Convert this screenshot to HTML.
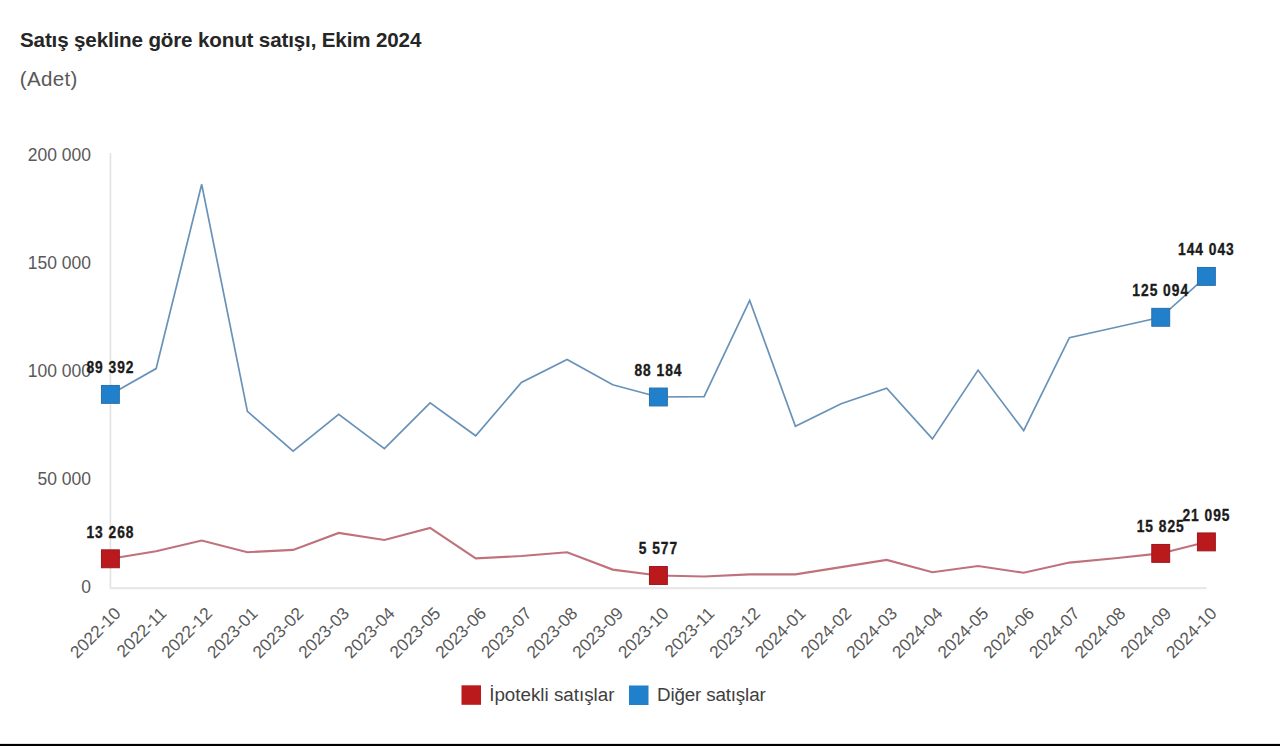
<!DOCTYPE html>
<html lang="tr"><head><meta charset="utf-8"><title>Satış şekline göre konut satışı, Ekim 2024</title>
<style>html,body{margin:0;padding:0;background:#fff;width:1280px;height:746px;overflow:hidden}svg{display:block}</style>
</head><body>
<svg width="1280" height="746" viewBox="0 0 1280 746">
<text x="20" y="47" font-family='"Liberation Sans", Arial, sans-serif' font-weight="bold" font-size="20.6" letter-spacing="-0.15" fill="#262626">Satış şekline göre konut satışı, Ekim 2024</text>
<text x="19.8" y="85.5" font-family='"Liberation Sans", Arial, sans-serif' font-size="20.5" letter-spacing="0.35" fill="#595959">(Adet)</text>
<line x1="110.45" y1="153" x2="110.45" y2="588" stroke="#e2e2e2" stroke-width="1.6"/>
<line x1="109.7" y1="588.1" x2="1206.5" y2="588.1" stroke="#e8e8e8" stroke-width="2.4"/>
<text x="91" y="161.1" text-anchor="end" font-family='"Liberation Sans", Arial, sans-serif' font-size="17.5" fill="#595959">200 000</text>
<text x="91" y="269.1" text-anchor="end" font-family='"Liberation Sans", Arial, sans-serif' font-size="17.5" fill="#595959">150 000</text>
<text x="91" y="377.1" text-anchor="end" font-family='"Liberation Sans", Arial, sans-serif' font-size="17.5" fill="#595959">100 000</text>
<text x="91" y="485.1" text-anchor="end" font-family='"Liberation Sans", Arial, sans-serif' font-size="17.5" fill="#595959">50 000</text>
<text x="91" y="593.1" text-anchor="end" font-family='"Liberation Sans", Arial, sans-serif' font-size="17.5" fill="#595959">0</text>
<text transform="translate(121.9,614.5) rotate(-45)" text-anchor="end" font-family='"Liberation Sans", Arial, sans-serif' font-size="17.25" fill="#595959">2022-10</text>
<text transform="translate(167.6,614.5) rotate(-45)" text-anchor="end" font-family='"Liberation Sans", Arial, sans-serif' font-size="17.25" fill="#595959">2022-11</text>
<text transform="translate(213.2,614.5) rotate(-45)" text-anchor="end" font-family='"Liberation Sans", Arial, sans-serif' font-size="17.25" fill="#595959">2022-12</text>
<text transform="translate(258.9,614.5) rotate(-45)" text-anchor="end" font-family='"Liberation Sans", Arial, sans-serif' font-size="17.25" fill="#595959">2023-01</text>
<text transform="translate(304.6,614.5) rotate(-45)" text-anchor="end" font-family='"Liberation Sans", Arial, sans-serif' font-size="17.25" fill="#595959">2023-02</text>
<text transform="translate(350.2,614.5) rotate(-45)" text-anchor="end" font-family='"Liberation Sans", Arial, sans-serif' font-size="17.25" fill="#595959">2023-03</text>
<text transform="translate(395.9,614.5) rotate(-45)" text-anchor="end" font-family='"Liberation Sans", Arial, sans-serif' font-size="17.25" fill="#595959">2023-04</text>
<text transform="translate(441.6,614.5) rotate(-45)" text-anchor="end" font-family='"Liberation Sans", Arial, sans-serif' font-size="17.25" fill="#595959">2023-05</text>
<text transform="translate(487.2,614.5) rotate(-45)" text-anchor="end" font-family='"Liberation Sans", Arial, sans-serif' font-size="17.25" fill="#595959">2023-06</text>
<text transform="translate(532.9,614.5) rotate(-45)" text-anchor="end" font-family='"Liberation Sans", Arial, sans-serif' font-size="17.25" fill="#595959">2023-07</text>
<text transform="translate(578.6,614.5) rotate(-45)" text-anchor="end" font-family='"Liberation Sans", Arial, sans-serif' font-size="17.25" fill="#595959">2023-08</text>
<text transform="translate(624.2,614.5) rotate(-45)" text-anchor="end" font-family='"Liberation Sans", Arial, sans-serif' font-size="17.25" fill="#595959">2023-09</text>
<text transform="translate(669.9,614.5) rotate(-45)" text-anchor="end" font-family='"Liberation Sans", Arial, sans-serif' font-size="17.25" fill="#595959">2023-10</text>
<text transform="translate(715.6,614.5) rotate(-45)" text-anchor="end" font-family='"Liberation Sans", Arial, sans-serif' font-size="17.25" fill="#595959">2023-11</text>
<text transform="translate(761.2,614.5) rotate(-45)" text-anchor="end" font-family='"Liberation Sans", Arial, sans-serif' font-size="17.25" fill="#595959">2023-12</text>
<text transform="translate(806.9,614.5) rotate(-45)" text-anchor="end" font-family='"Liberation Sans", Arial, sans-serif' font-size="17.25" fill="#595959">2024-01</text>
<text transform="translate(852.6,614.5) rotate(-45)" text-anchor="end" font-family='"Liberation Sans", Arial, sans-serif' font-size="17.25" fill="#595959">2024-02</text>
<text transform="translate(898.2,614.5) rotate(-45)" text-anchor="end" font-family='"Liberation Sans", Arial, sans-serif' font-size="17.25" fill="#595959">2024-03</text>
<text transform="translate(943.9,614.5) rotate(-45)" text-anchor="end" font-family='"Liberation Sans", Arial, sans-serif' font-size="17.25" fill="#595959">2024-04</text>
<text transform="translate(989.6,614.5) rotate(-45)" text-anchor="end" font-family='"Liberation Sans", Arial, sans-serif' font-size="17.25" fill="#595959">2024-05</text>
<text transform="translate(1035.2,614.5) rotate(-45)" text-anchor="end" font-family='"Liberation Sans", Arial, sans-serif' font-size="17.25" fill="#595959">2024-06</text>
<text transform="translate(1080.9,614.5) rotate(-45)" text-anchor="end" font-family='"Liberation Sans", Arial, sans-serif' font-size="17.25" fill="#595959">2024-07</text>
<text transform="translate(1126.6,614.5) rotate(-45)" text-anchor="end" font-family='"Liberation Sans", Arial, sans-serif' font-size="17.25" fill="#595959">2024-08</text>
<text transform="translate(1172.2,614.5) rotate(-45)" text-anchor="end" font-family='"Liberation Sans", Arial, sans-serif' font-size="17.25" fill="#595959">2024-09</text>
<text transform="translate(1217.9,614.5) rotate(-45)" text-anchor="end" font-family='"Liberation Sans", Arial, sans-serif' font-size="17.25" fill="#595959">2024-10</text>
<polyline points="110.4,394.4 156.1,368.6 201.7,184.3 247.4,411.3 293.1,451.1 338.7,414.4 384.4,448.6 430.1,402.8 475.7,435.8 521.4,382.5 567.1,359.4 612.7,384.8 658.4,397.0 704.1,396.7 749.7,300.5 795.4,426.2 841.1,403.7 886.7,388.2 932.4,438.9 978.1,370.1 1023.7,430.6 1069.4,337.7 1115.1,327.5 1160.7,317.3 1206.4,276.4" fill="none" stroke="#6892b8" stroke-width="1.7" stroke-linejoin="miter"/>
<polyline points="110.4,558.8 156.1,551.3 201.7,540.6 247.4,552.2 293.1,549.9 338.7,532.9 384.4,540.0 430.1,528.0 475.7,558.4 521.4,556.0 567.1,552.2 612.7,569.6 658.4,575.5 704.1,576.5 749.7,574.4 795.4,574.4 841.1,567.1 886.7,559.9 932.4,572.2 978.1,566.0 1023.7,572.8 1069.4,562.6 1115.1,558.2 1160.7,553.4 1206.4,541.9" fill="none" stroke="#c0727c" stroke-width="2.1" stroke-linejoin="miter"/>
<rect x="101.45" y="385.45" width="17.9" height="17.9" fill="#2080cc" stroke="#2a6faa" stroke-width="1"/>
<rect x="101.45" y="549.85" width="17.9" height="17.9" fill="#bb1a1c" stroke="#9c1622" stroke-width="1"/>
<rect x="649.45" y="388.05" width="17.9" height="17.9" fill="#2080cc" stroke="#2a6faa" stroke-width="1"/>
<rect x="649.45" y="566.55" width="17.9" height="17.9" fill="#bb1a1c" stroke="#9c1622" stroke-width="1"/>
<rect x="1151.78" y="308.35" width="17.9" height="17.9" fill="#2080cc" stroke="#2a6faa" stroke-width="1"/>
<rect x="1151.78" y="544.45" width="17.9" height="17.9" fill="#bb1a1c" stroke="#9c1622" stroke-width="1"/>
<rect x="1197.45" y="267.45" width="17.9" height="17.9" fill="#2080cc" stroke="#2a6faa" stroke-width="1"/>
<rect x="1197.45" y="532.95" width="17.9" height="17.9" fill="#bb1a1c" stroke="#9c1622" stroke-width="1"/>
<text transform="translate(110.4,373.2) scale(0.82,1)" text-anchor="middle" font-family='"Liberation Sans", Arial, sans-serif' font-weight="bold" font-size="16.8" letter-spacing="1.2" fill="#1a1a1a" stroke="#1a1a1a" stroke-width="0.35">89 392</text>
<text transform="translate(110.4,537.6) scale(0.82,1)" text-anchor="middle" font-family='"Liberation Sans", Arial, sans-serif' font-weight="bold" font-size="16.8" letter-spacing="1.2" fill="#1a1a1a" stroke="#1a1a1a" stroke-width="0.35">13 268</text>
<text transform="translate(658.4,375.8) scale(0.82,1)" text-anchor="middle" font-family='"Liberation Sans", Arial, sans-serif' font-weight="bold" font-size="16.8" letter-spacing="1.2" fill="#1a1a1a" stroke="#1a1a1a" stroke-width="0.35">88 184</text>
<text transform="translate(658.4,554.3) scale(0.82,1)" text-anchor="middle" font-family='"Liberation Sans", Arial, sans-serif' font-weight="bold" font-size="16.8" letter-spacing="1.2" fill="#1a1a1a" stroke="#1a1a1a" stroke-width="0.35">5 577</text>
<text transform="translate(1160.7,296.1) scale(0.82,1)" text-anchor="middle" font-family='"Liberation Sans", Arial, sans-serif' font-weight="bold" font-size="16.8" letter-spacing="1.2" fill="#1a1a1a" stroke="#1a1a1a" stroke-width="0.35">125 094</text>
<text transform="translate(1160.7,532.2) scale(0.82,1)" text-anchor="middle" font-family='"Liberation Sans", Arial, sans-serif' font-weight="bold" font-size="16.8" letter-spacing="1.2" fill="#1a1a1a" stroke="#1a1a1a" stroke-width="0.35">15 825</text>
<text transform="translate(1206.4,255.2) scale(0.82,1)" text-anchor="middle" font-family='"Liberation Sans", Arial, sans-serif' font-weight="bold" font-size="16.8" letter-spacing="1.2" fill="#1a1a1a" stroke="#1a1a1a" stroke-width="0.35">144 043</text>
<text transform="translate(1206.4,520.7) scale(0.82,1)" text-anchor="middle" font-family='"Liberation Sans", Arial, sans-serif' font-weight="bold" font-size="16.8" letter-spacing="1.2" fill="#1a1a1a" stroke="#1a1a1a" stroke-width="0.35">21 095</text>
<rect x="461.5" y="685.3" width="19.5" height="19.5" fill="#bb1a1c"/>
<text x="489.2" y="700.5" font-family='"Liberation Sans", Arial, sans-serif' font-size="18.8" fill="#404040">İpotekli satışlar</text>
<rect x="629" y="685.5" width="19.5" height="19.5" fill="#2080cc"/>
<text x="657" y="700.5" font-family='"Liberation Sans", Arial, sans-serif' font-size="18.8" letter-spacing="-0.15" fill="#404040">Diğer satışlar</text>
<rect x="0" y="743.9" width="1280" height="2.1" fill="#000"/>
</svg>
</body></html>
